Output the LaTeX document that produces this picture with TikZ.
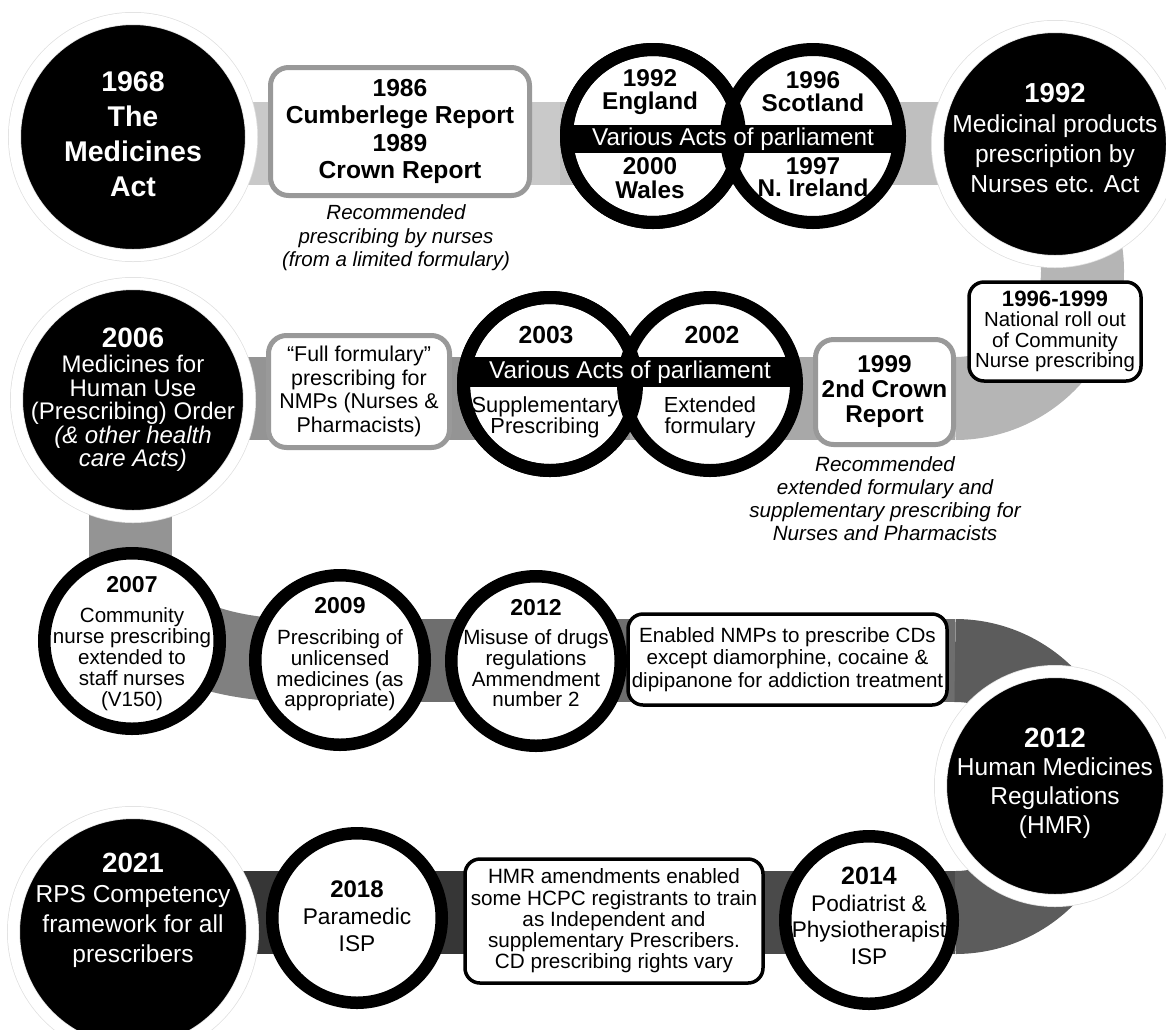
\documentclass[tikz,border=0pt]{standalone}
\usepackage{fontspec}
\setmainfont{Liberation Sans}

\newcommand{\setsz}[2]{\fontsize{#1}{#2}\selectfont\lineskiplimit=-50pt\relax}
\newcommand{\yeartxt}[2]{{\bfseries\fontsize{#1}{#1}\selectfont #2}}

\tikzstyle{band} = [line width=83pt]
\tikzstyle{halodisc} = [circle, fill=black, draw=black!12, double=white, double distance=11.5pt, line width=0.75pt, inner sep=0pt]
\tikzstyle{ringdisc} = [circle, fill=white, draw=black, line width=12.5pt, inner sep=0pt]
\tikzstyle{actsring} = [circle, fill=white, draw=black, line width=13pt, inner sep=0pt, minimum size=173pt]
\tikzstyle{actsbar} = [fill=black, text=white, inner sep=0pt, minimum width=336pt, font=\setsz{24.3}{28}]
\tikzstyle{greybox} = [rounded corners=18pt, draw=black!40, line width=5pt, fill=white, inner sep=0pt, align=center]
\tikzstyle{blackbox} = [rounded corners=15pt, draw=black, line width=3.5pt, fill=white, inner sep=0pt, align=center]
\tikzstyle{note} = [align=center, font=\setsz{20.5}{23.5}\itshape]
\tikzstyle{wt} = [text=white, align=center]
\tikzstyle{bt} = [align=center]

\begin{document}
\begin{tikzpicture}[x=1pt, y=1pt]
\useasboundingbox (0,0) rectangle (1166,-1029);
%begin band
\coordinate (b0) at (133,-143.5);
\coordinate (b1) at (560,-143.5);
\coordinate (b2) at (955,-143.5);
\coordinate (b3) at (955,-398.5);
\coordinate (b4) at (630,-398.5);
\coordinate (b5) at (130,-398.5);
\coordinate (b6) at (130,-560);
\coordinate (b7) at (300,-660.5);
\coordinate (b8) at (955,-660.5);
\coordinate (b9) at (955,-912.5);
\coordinate (b10) at (560,-912.5);
\coordinate (b11) at (133,-912.5);
\draw[band, black!21] (b0) -- (b1);
\draw[band, black!25] (b1) -- (b2);
\draw[band, black!29] (b2) arc[start angle=90, end angle=-90, radius=127.5];
\draw[band, black!34] (b3) -- (b4);
\draw[band, black!42] (b4) -- (b5) -- (b6);
\draw[band, black!50] (b6) to[out=-90, in=180] (b7);
\draw[band, black!57] (b7) -- (b8);
\draw[band, black!64] (b8) arc[start angle=90, end angle=-90, radius=126];
\draw[band, black!71] (b9) -- (b10);
\draw[band, black!79] (b10) -- (b11);
%end band

%begin row1
\node[halodisc, minimum size=237pt, label={[wt, font=\setsz{28.5}{35}\bfseries, yshift=3pt]center:{1968\\The\\Medicines\\Act}}] (n1968) at (133,-137) {};
\node[greybox, minimum width=259pt, minimum height=128pt, font=\setsz{24.6}{27.5}\bfseries] (box1986) at (400,-131.5) {1986\\Cumberlege Report\\1989\\Crown Report};
\node[note] (note1986) at (396,-238) {Recommended\\prescribing by nurses\\(from a limited formulary)};
%acts 1
\node[actsring] (acts1L) at (653,-136) {};
\node[actsring] (acts1R) at (813,-136) {};
\draw[line width=13pt] (acts1L.center) circle[radius=86.5];
\node[actsbar, minimum height=28pt] (acts1bar) at (733,-139) {Various Acts of parliament};
\node[bt, font=\setsz{24.3}{23}\bfseries] (england) at (650,-92) {1992\\England};
\node[bt, font=\setsz{24.3}{23}\bfseries] (scotland) at (813,-92) {1996\\Scotland};
\node[bt, font=\setsz{24.3}{24}\bfseries] (wales) at (650,-178) {2000\\Wales};
\node[bt, font=\setsz{24.3}{22}\bfseries] (ireland) at (813,-177) {1997\\N. Ireland};
\node[halodisc, minimum size=235pt, label={[wt, font=\setsz{24.6}{30}, yshift=6pt]center:{\yeartxt{27.5}{1992}\\Medicinal products\\prescription by\\Nurses etc. Act}}] (n1992) at (1055,-144) {};
%end row1

%begin turn
\node[blackbox, minimum width=172pt, minimum height=99pt, font=\setsz{20.4}{20.5}] (box1996) at (1055,-331.5) {\yeartxt{22.2}{1996-1999}\\National roll out\\of Community\\Nurse prescribing};
\node[greybox, minimum width=138pt, minimum height=105pt, font=\setsz{24.3}{25}\bfseries] (box1999) at (884.5,-392) {1999\\2nd Crown\\Report};
\node[note, font=\setsz{20.6}{23}\itshape] (note1999) at (885,-499) {Recommended\\extended formulary and\\supplementary prescribing for\\Nurses and Pharmacists};
%end turn

%begin row2
\node[actsring] (acts2L) at (550,-384) {};
\node[actsring] (acts2R) at (710,-384) {};
\draw[line width=13pt] (acts2L.center) circle[radius=86.5];
\node[actsbar, minimum height=30pt] (acts2bar) at (630,-372) {Various Acts of parliament};
\node[bt, font=\setsz{24.7}{24}\bfseries] (y2003) at (546,-335) {2003};
\node[bt, font=\setsz{24.7}{24}\bfseries] (y2002) at (712,-335) {2002};
\node[bt, font=\setsz{21.8}{21}] (supp) at (545,-417) {Supplementary\\Prescribing};
\node[bt, font=\setsz{21.8}{21}] (ext) at (710,-417) {Extended\\formulary};
\node[greybox, minimum width=181pt, minimum height=112pt, font=\setsz{21.4}{23.5}] (boxfull) at (359,-391.5) {“Full formulary”\\prescribing for\\NMPs (Nurses \&\\Pharmacists)};
\node[halodisc, minimum size=233pt, label={[wt, font=\setsz{24}{23.5}]center:{\yeartxt{28}{2006}\\[1.5pt]Medicines for\\Human Use\\(Prescribing) Order\\\textit{(\& other health}\\\textit{care Acts)}}}] (n2006) at (133,-400) {};
%end row2

%begin row3
\node[ringdisc, minimum size=175.5pt, label={[bt, font=\setsz{20.6}{21}, yshift=-3pt]center:{\yeartxt{23}{2007}\\[9pt]Community\\nurse prescribing\\extended to\\staff nurses\\(V150)}}] (n2007) at (132,-641) {};
\node[ringdisc, minimum size=169.5pt, label={[bt, font=\setsz{20.6}{20.7}, yshift=6pt]center:{\yeartxt{23}{2009}\\[11pt]Prescribing of\\unlicensed\\medicines (as\\appropriate)}}] (n2009) at (340,-660) {};
\node[ringdisc, minimum size=169.5pt, label={[bt, font=\setsz{20.6}{20.7}, yshift=8pt]center:{\yeartxt{23}{2012}\\[9pt]Misuse of drugs\\regulations\\Ammendment\\number 2}}] (n2012) at (536,-661) {};
\node[blackbox, minimum width=319pt, minimum height=91pt, font=\setsz{20.6}{22.5}] (boxcd) at (787.5,-659.5) {Enabled NMPs to prescribe CDs\\except diamorphine, cocaine \&\\dipipanone for addiction treatment};
\node[halodisc, minimum size=229pt, label={[wt, font=\setsz{24.5}{28.7}, yshift=3pt]center:{\yeartxt{27.8}{2012}\\Human Medicines\\Regulations\\(HMR)}}] (nhmr) at (1055,-786) {};
%end row3

%begin row4
\node[ringdisc, minimum size=167.5pt, label={[bt, font=\setsz{22.6}{26.7}, yshift=4pt]center:{\yeartxt{25}{2014}\\Podiatrist \&\\Physiotherapist\\ISP}}] (n2014) at (869,-920) {};
\node[blackbox, minimum width=298pt, minimum height=124pt, font=\setsz{20.7}{21.3}] (boxhmr) at (614,-921) {HMR amendments enabled\\some HCPC registrants to train\\as Independent and\\supplementary Prescribers.\\CD prescribing rights vary};
\node[ringdisc, minimum size=169.5pt, label={[bt, font=\setsz{22.7}{27}, yshift=1.5pt]center:{\yeartxt{24}{2018}\\Paramedic\\ISP}}] (n2018) at (357,-918) {};
\node[halodisc, minimum size=239pt, label={[wt, font=\setsz{24.5}{30}, yshift=22pt]center:{\yeartxt{27.8}{2021}\\RPS Competency\\framework for all\\prescribers}}] (n2021) at (133,-932) {};
%end row4
\end{tikzpicture}
\end{document}
